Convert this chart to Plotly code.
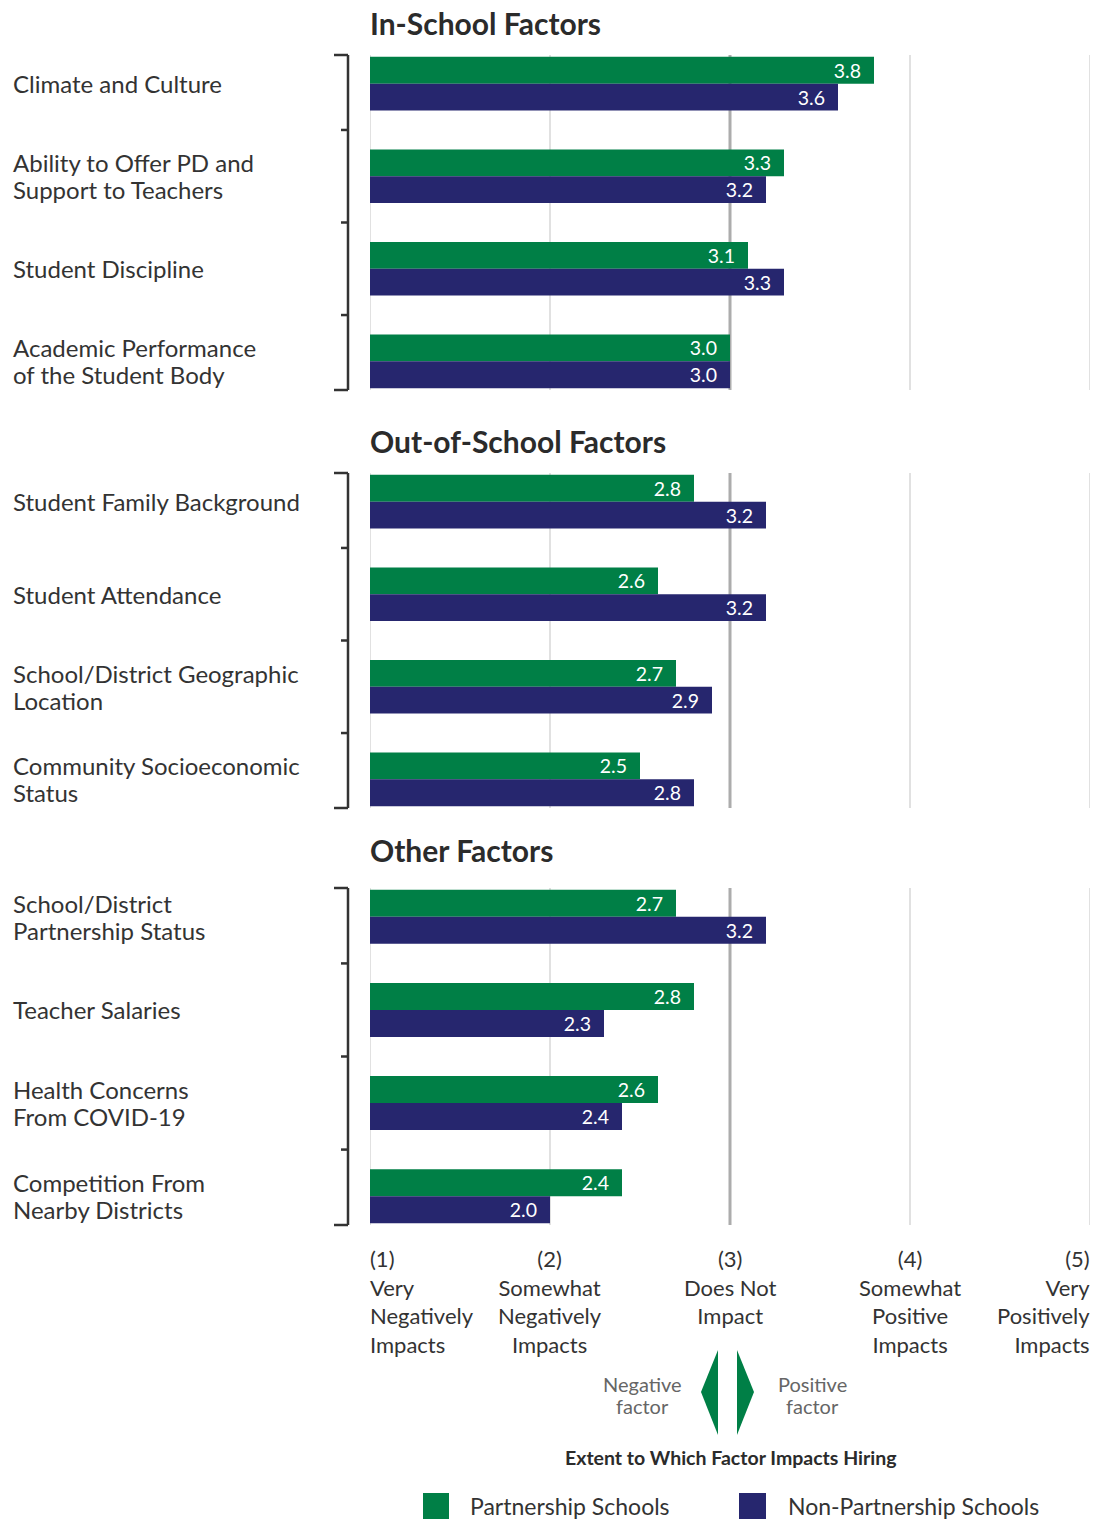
import plotly.graph_objects as go

# ---- data ---------------------------------------------------------------
panel_titles = ["In-School Factors", "Out-of-School Factors", "Other Factors"]

in_school_labels = [
    "Climate and Culture",
    "Ability to Offer PD and<br>Support to Teachers",
    "Student Discipline",
    "Academic Performance<br>of the Student Body",
]
in_school_partner = [3.8, 3.3, 3.1, 3.0]
in_school_non = [3.6, 3.2, 3.3, 3.0]

out_school_labels = [
    "Student Family Background",
    "Student Attendance",
    "School/District Geographic<br>Location",
    "Community Socioeconomic<br>Status",
]
out_school_partner = [2.8, 2.6, 2.7, 2.5]
out_school_non = [3.2, 3.2, 2.9, 2.8]

other_labels = [
    "School/District<br>Partnership Status",
    "Teacher Salaries",
    "Health Concerns<br>From COVID-19",
    "Competition From<br>Nearby Districts",
]
other_partner = [2.7, 2.8, 2.6, 2.4]
other_non = [3.2, 2.3, 2.4, 2.0]

scale_values = [1, 2, 3, 4, 5]
scale_labels = [
    "(1)<br>Very<br>Negatively<br>Impacts",
    "(2)<br>Somewhat<br>Negatively<br>Impacts",
    "(3)<br>Does Not<br>Impact",
    "(4)<br>Somewhat<br>Positive<br>Impacts",
    "(5)<br>Very<br>Positively<br>Impacts",
]
series_names = ["Partnership Schools", "Non-Partnership Schools"]

# ---- styling ------------------------------------------------------------
W, H = 1095, 1520
GREEN = "#007f46"
NAVY = "#26266e"
TEXT = "#333333"
FONT = "Lato"

def px(x):
    return x / W

def py(y):
    return 1 - y / H

def text_lines(text, spacing, **kw):
    """Split a <br> label into one annotation per line with a fixed pixel pitch."""
    lines = text.split("<br>")
    n = len(lines)
    out = []
    for k, line in enumerate(lines):
        a = dict(kw)
        a["text"] = line
        a["yshift"] = ((n - 1) / 2 - k) * spacing
        a["showarrow"] = False
        out.append(a)
    return out

panels = [
    (in_school_labels, in_school_partner, in_school_non, (55, 390), 23),
    (out_school_labels, out_school_partner, out_school_non, (473, 808), 441),
    (other_labels, other_partner, other_non, (888, 1225), 850),
]

fig = go.Figure()
shapes = []
annotations = []
layout_axes = {}

x_left, x_right = 370, 1090

for i, (labels, partner, non, (top, bottom), title_y) in enumerate(panels):
    n = "" if i == 0 else str(i + 1)
    xa, ya = "x" + n, "y" + n
    for vals, color, name in ((partner, GREEN, series_names[0]), (non, NAVY, series_names[1])):
        fig.add_trace(go.Bar(
            y=labels, x=vals, orientation="h", name=name,
            marker=dict(color=color, line=dict(width=0)),
            text=[f"{v:.1f}\u00a0\u00a0" for v in vals],
            textposition="inside", insidetextanchor="end",
            constraintext="none",
            textfont=dict(family=FONT, size=19.5, color="white"),
            xaxis=xa, yaxis=ya, showlegend=False, hoverinfo="skip",
        ))
    layout_axes["xaxis" + n] = dict(
        domain=[px(x_left), px(x_right)], range=[1, 5], anchor=ya,
        showgrid=False, zeroline=False, showline=False, showticklabels=False,
        fixedrange=True,
    )
    layout_axes["yaxis" + n] = dict(
        domain=[py(bottom), py(top)], anchor=xa, type="category",
        range=[3.31, -0.31], showgrid=False, zeroline=False,
        showline=False, showticklabels=False, fixedrange=True,
    )

    # vertical reference lines
    for v in scale_values:
        mid = v == 3
        shapes.append(dict(
            type="line", xref=xa, yref=ya + " domain", x0=v, x1=v, y0=0, y1=1,
            line=dict(color="#acacac" if mid else "#e1e1e1", width=3 if mid else 2),
            layer="below",
        ))

    # bracket grouping the panel's categories
    bx = px(348)
    shapes.append(dict(type="line", xref="paper", yref=ya + " domain",
                       x0=bx, x1=bx, y0=0, y1=1, line=dict(color=TEXT, width=2.5)))
    for yy in (0, 1):
        shapes.append(dict(type="line", xref="paper", yref=ya + " domain",
                           x0=px(334), x1=bx, y0=yy, y1=yy, line=dict(color=TEXT, width=2.5)))
    for k in range(len(labels) - 1):
        shapes.append(dict(type="line", xref="paper", yref=ya,
                           x0=px(341), x1=bx, y0=k + 0.5, y1=k + 0.5,
                           line=dict(color=TEXT, width=2.5)))

    # category labels
    for lab in labels:
        annotations += text_lines(
            lab, 27, xref="paper", yref=ya, x=px(11), y=labels.index(lab),
            xanchor="left", yanchor="middle", align="left",
            font=dict(family=FONT, size=24, color=TEXT),
        )

    # panel title
    annotations.append(dict(
        text=f"<b>{panel_titles[i]}</b>", xref="paper", yref="paper",
        x=px(368), y=py(title_y), xanchor="left", yanchor="middle",
        showarrow=False, font=dict(family=FONT, size=30, color="#2b2b2b", weight=900),
    ))

# scale labels under the last panel
for v, lab in zip(scale_values, scale_labels):
    if v == scale_values[0]:
        anchor, align, shift = "left", "left", -2
    elif v == scale_values[-1]:
        anchor, align, shift = "right", "right", 2
    else:
        anchor, align, shift = "center", "center", 0
    annotations.append(dict(
        text=lab, xref="x3", yref="paper", x=v, y=py(1243), xshift=shift,
        xanchor=anchor, yanchor="top", align=align, showarrow=False,
        font=dict(family=FONT, size=22, color=TEXT),
    ))

# direction arrows
def path(points):
    return "M " + " L ".join(f"{px(a):.5f},{py(b):.5f}" for a, b in points) + " Z"

shapes.append(dict(type="path", xref="paper", yref="paper",
                   path=path([(718, 1350), (701, 1392), (718, 1435)]),
                   fillcolor=GREEN, line=dict(width=0)))
shapes.append(dict(type="path", xref="paper", yref="paper",
                   path=path([(737, 1350), (754, 1392), (737, 1435)]),
                   fillcolor=GREEN, line=dict(width=0)))
for txt, cx in (("Negative<br>factor", 642), ("Positive<br>factor", 813)):
    annotations += text_lines(
        txt, 22, xref="paper", yref="paper", x=px(cx), y=py(1395),
        xanchor="center", yanchor="middle", align="center",
        font=dict(family=FONT, size=20, color="#666666"),
    )
annotations.append(dict(text="<b>Extent to Which Factor Impacts Hiring</b>",
                        xref="paper", yref="paper", x=px(731), y=py(1457),
                        xanchor="center", yanchor="middle", showarrow=False,
                        font=dict(family=FONT, size=19.5, color="#2b2b2b", weight=900)))

# legend
for (x0, x1, tx), color, name in zip(((423, 449, 468), (739, 766, 786)),
                                     (GREEN, NAVY), series_names):
    shapes.append(dict(type="rect", xref="paper", yref="paper",
                       x0=px(x0), x1=px(x1), y0=py(1519), y1=py(1493),
                       fillcolor=color, line=dict(width=0)))
    annotations.append(dict(text=name, xref="paper", yref="paper",
                            x=px(tx), y=py(1506), xanchor="left", yanchor="middle",
                            showarrow=False,
                            font=dict(family=FONT, size=23, color=TEXT)))

fig.update_layout(
    width=W, height=H, margin=dict(l=0, r=0, t=0, b=0),
    paper_bgcolor="white", plot_bgcolor="rgba(0,0,0,0)",
    barmode="group", bargap=0.42, bargroupgap=0,
    showlegend=False, shapes=shapes, annotations=annotations,
    font=dict(family=FONT, color=TEXT),
    **layout_axes,
)

fig.write_html("out.html")
